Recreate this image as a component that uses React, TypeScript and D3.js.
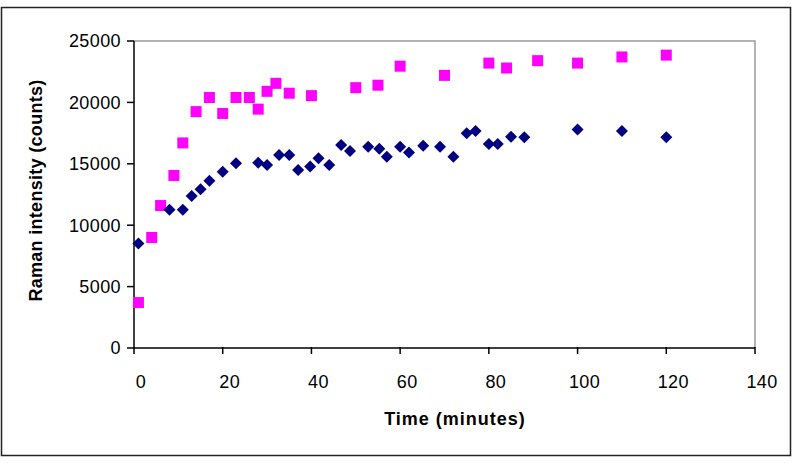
import React from "react";
import * as d3 from "d3";

const W = 800;
const H = 463;

// Series 1 (magenta squares)
const magentaX = [1, 4, 6, 9, 11, 14, 17, 20, 23, 26, 28, 30, 32, 35, 40, 50, 55, 60, 70, 80, 84, 91, 100, 110, 120];
const magentaY = [3700, 9000, 11600, 14050, 16700, 19250, 20400, 19100, 20400, 20400, 19450, 20900, 21550, 20750, 20550, 21200, 21400, 22950, 22200, 23200, 22800, 23400, 23200, 23700, 23850];

// Series 2 (navy diamonds)
const navyX = [1, 8, 11, 13, 15, 17, 20, 23, 28, 30, 32.7, 35, 37, 39.7, 41.6, 44, 46.7, 48.7, 52.8, 55.3, 57, 60, 62, 65.2, 69, 72, 75, 77, 80, 82, 85, 88, 100, 110, 120];
const navyY = [8500, 11250, 11250, 12380, 12920, 13620, 14360, 15040, 15090, 14900, 15720, 15720, 14500, 14770, 15450, 14900, 16530, 16040, 16390, 16230, 15580, 16390, 15930, 16470, 16390, 15580, 17480, 17670, 16610, 16610, 17210, 17160, 17800, 17670, 17160];

const xTicks = [0, 20, 40, 60, 80, 100, 120, 140];
const yTicks = [0, 5000, 10000, 15000, 20000, 25000];

const xTitle = "Time (minutes)";
const yTitle = "Raman intensity (counts)";

export default function App() {
  const left = 134, right = 755, top = 41, bottom = 348;
  const x = d3.scaleLinear().domain([0, 140]).range([left, right]);
  const y = d3.scaleLinear().domain([0, 25000]).range([bottom, top]);
  const font = "Arial, 'Liberation Sans', Helvetica, sans-serif";
  const sq = 11;
  const dm = 6;

  return (
    <div style={{ position: "absolute", left: 0, top: 0 }}>
      <svg width={W} height={H} style={{ display: "block", background: "#fff" }}>
        <rect x={0} y={0} width={W} height={H} fill="#fff" />
        <rect x={1.5} y={7.5} width={789} height={448} fill="none" stroke="#222" strokeWidth={1.5} />
        {/* plot border top/right */}
        <path d={`M${left},${top}H${right}V${bottom}`} fill="none" stroke="#999" strokeWidth={1.5} />
        {/* axes */}
        <line x1={left} x2={left} y1={top} y2={bottom} stroke="#000" strokeWidth={1.5} />
        <line x1={left} x2={right} y1={bottom} y2={bottom} stroke="#000" strokeWidth={1.5} />
        {xTicks.map((t) => (
          <g key={"xt" + t}>
            <line x1={x(t)} x2={x(t)} y1={bottom - 1} y2={bottom + 6} stroke="#000" strokeWidth={1.5} />
            <text x={x(t) + 7} y={388} textAnchor="middle" fontFamily={font} fontSize={18} letterSpacing={0.4} fill="#000">
              {t}
            </text>
          </g>
        ))}
        {yTicks.map((t) => (
          <g key={"yt" + t}>
            <line x1={left - 7} x2={left} y1={y(t)} y2={y(t)} stroke="#000" strokeWidth={1.5} />
            <text x={121} y={y(t)} dy="0.36em" textAnchor="end" fontFamily={font} fontSize={18} letterSpacing={0.4} fill="#000">
              {t}
            </text>
          </g>
        ))}
        <text x={455} y={425} textAnchor="middle" fontFamily={font} fontSize={18} fontWeight="bold" letterSpacing={1} fill="#000">
          {xTitle}
        </text>
        <text
          transform={`translate(42,${(top + bottom) / 2 - 4}) rotate(-90)`}
          textAnchor="middle"
          fontFamily={font}
          fontSize={18}
          fontWeight="bold"
          letterSpacing={0.3}
          fill="#000"
        >
          {yTitle}
        </text>
        {magentaX.map((v, i) => (
          <rect key={"m" + i} x={x(v) - sq / 2} y={y(magentaY[i]) - sq / 2} width={sq} height={sq} fill="#FF00FF" />
        ))}
        {navyX.map((v, i) => {
          const cx = x(v), cy = y(navyY[i]);
          return (
            <path
              key={"n" + i}
              d={`M${cx},${cy - dm}L${cx + dm},${cy}L${cx},${cy + dm}L${cx - dm},${cy}Z`}
              fill="#000080"
            />
          );
        })}
      </svg>
    </div>
  );
}
